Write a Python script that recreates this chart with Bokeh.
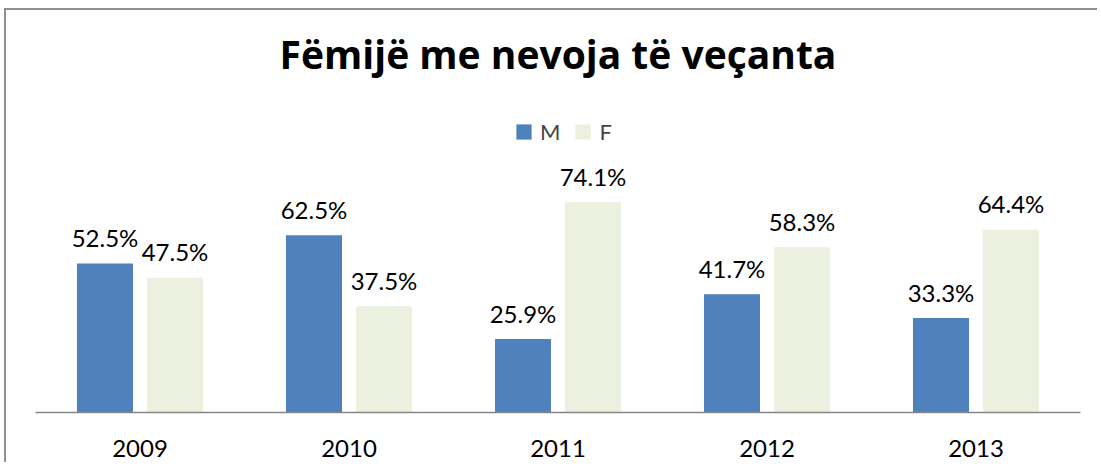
from bokeh.plotting import figure
from bokeh.models import ColumnDataSource, LabelSet, Label, Range1d, FactorRange
from bokeh.transform import dodge
from bokeh.core.properties import value
from bokeh.embed import file_html
from bokeh.resources import INLINE

years = ["2009", "2010", "2011", "2012", "2013"]
m_values = [52.5, 62.5, 25.9, 41.7, 33.3]
f_values = [47.5, 37.5, 74.1, 58.3, 64.4]
title_text = "Fëmijë me nevoja të veçanta"
series_names = ["M", "F"]

src = ColumnDataSource(dict(
    year=years,
    m=m_values,
    f=f_values,
    m_lab=[f"{v:.1f}%" for v in m_values],
    f_lab=[f"{v:.1f}%" for v in f_values],
))

FONT = "Lato"

# frame spans from the top of the canvas down to the axis line
p = figure(
    width=1093, height=454,
    x_range=FactorRange(*years, range_padding=0),
    y_range=Range1d(0, 141.75),
    output_backend="svg", toolbar_location=None,
    min_border_left=29, min_border_right=19, min_border_top=0, min_border_bottom=52,
)
p.styles = {"border-top": "2px solid #8f8f8f", "border-left": "2px solid #8f8f8f",
            "margin-left": "4px", "margin-top": "8px"}
p.outline_line_color = None
p.background_fill_color = "white"
p.border_fill_color = "white"

title = Label(x=2.5, y=126.6, text=title_text, text_align="center",
              text_baseline="alphabetic", text_font="Open Sans",
              text_font_style="bold", text_font_size="39px", text_color="black")
p.add_layout(title)

off = 0.1675
bw = 0.268
p.vbar(x=dodge("year", -off, range=p.x_range), top="m", width=bw, source=src,
       fill_color="#4F81BD", line_color=None, legend_label=series_names[0])
p.vbar(x=dodge("year", off, range=p.x_range), top="f", width=bw, source=src,
       fill_color="#EBF1DE", line_color=None, legend_label=series_names[1])

for col, lab, o in (("m", "m_lab", -off), ("f", "f_lab", off)):
    ls = LabelSet(x=dodge("year", o, range=p.x_range), y=col, text=lab, source=src,
                  text_align="center", text_baseline="middle", y_offset=26,
                  text_font=value(FONT), text_font_size="24px", text_color="black")
    p.add_layout(ls)

p.xgrid.grid_line_color = None
p.ygrid.grid_line_color = None
p.yaxis.visible = False
p.xaxis.axis_line_color = "#868686"
p.xaxis.axis_line_width = 1.5
p.xaxis.major_tick_line_color = None
p.xaxis.minor_tick_line_color = None
p.xaxis.major_label_text_font = FONT
p.xaxis.major_label_text_font_size = "24px"
p.xaxis.major_label_text_color = "black"
p.xaxis.major_label_standoff = 21

lg = p.legend[0]
lg.orientation = "horizontal"
lg.location = (479, 267)
lg.border_line_color = None
lg.background_fill_alpha = 0
lg.label_text_font = FONT
lg.label_text_font_size = "22px"
lg.glyph_width = 19
lg.glyph_height = 19
lg.label_standoff = 7
lg.spacing = 13
lg.padding = 4
lg.margin = 0

open("out.html", "w").write(file_html(p, INLINE))
